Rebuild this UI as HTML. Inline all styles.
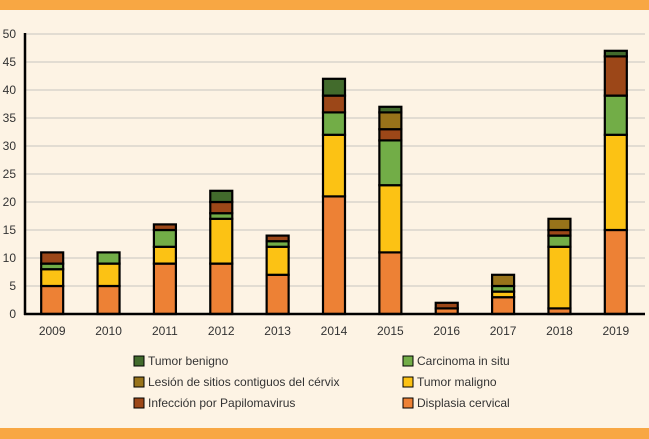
<!DOCTYPE html>
<html><head><meta charset="utf-8"><style>
html,body{margin:0;padding:0;}
body{width:649px;height:439px;background:#fdf3e4;position:relative;overflow:hidden;font-family:"Liberation Sans",sans-serif;}
.band{position:absolute;left:0;width:649px;background:#f8a743;}
</style></head><body>
<div class="band" style="top:0;height:10px"></div>
<div class="band" style="top:428px;height:11px"></div>
<svg id="chart" width="649" height="439" style="position:absolute;left:0;top:0"></svg>
<script>
const years=["2009","2010","2011","2012","2013","2014","2015","2016","2017","2018","2019"];
const displasia=[5,5,9,9,7,21,11,1,3,1,15];
const maligno=[3,4,3,8,5,11,12,0,1,11,17];
const carcinoma=[1,2,3,1,1,4,8,0,1,2,7];
const infeccion=[2,0,1,2,1,3,2,1,0,1,7];
const lesion=[0,0,0,0,0,0,3,0,2,2,0];
const benigno=[0,0,0,2,0,3,1,0,0,0,1];
const yTicks=[0,5,10,15,20,25,30,35,40,45,50];
const seriesNames=["Displasia cervical","Tumor maligno","Carcinoma in situ","Infección por Papilomavirus","Lesión de sitios contiguos del cérvix","Tumor benigno"];
const seriesData=[displasia,maligno,carcinoma,infeccion,lesion,benigno];
const colors=["#ed8135","#fcc214","#72ad47","#9c4718","#98731a","#426b2c"];
const NS="http://www.w3.org/2000/svg";
const svg=document.getElementById('chart');
const x0=25,x1=645,yb=314,yt=34,ymax=50;
const y=v=>yb-(v/ymax)*(yb-yt);
const step=(x1-x0)/years.length;
const xc=i=>x0+step*(i+0.5)-1;
function mk(t,a){const e=document.createElementNS(NS,t);for(const k in a)e.setAttribute(k,a[k]);svg.appendChild(e);return e;}
yTicks.forEach(t=>{
  if(t>0){const g=mk('line',{x1:x0,x2:x1,y1:y(t),y2:y(t),stroke:'#c8c4bf','stroke-width':1});
  
  }
  const l=mk('text',{x:16,y:y(t)+4,'text-anchor':'end','font-size':12,fill:'#333'});
  l.textContent=t;
  
  
});
years.forEach((yr,i)=>{
  let cum=0;const w=22;
  seriesData.forEach((s,k)=>{
    const v=s[i];if(!v)return;
    const r=mk('rect',{x:xc(i)-w/2,y:y(cum+v),width:w,height:y(cum)-y(cum+v),fill:colors[k],stroke:'#000','stroke-width':2.2});
    
    
    cum+=v;
  });
  const l=mk('text',{x:xc(i),y:335,'text-anchor':'middle','font-size':12,fill:'#333'});
  l.textContent=yr;
  
  
});
const ax=mk('line',{x1:x0,x2:x0,y1:yt-1,y2:yb+1,stroke:'#000','stroke-width':2.5});


const bx=mk('line',{x1:x0-1,x2:x1,y1:yb,y2:yb,stroke:'#000','stroke-width':2.5});


const legendOrder=[5,2,4,1,3,0];
legendOrder.forEach((k,j)=>{
  const col=j%2,row=Math.floor(j/2);
  const lx=col?403:134,ly=[361,382,403][row];
  const sw=mk('rect',{x:lx,y:ly-5,width:10,height:10,fill:colors[k],stroke:'#000','stroke-width':1});
  
  
  const t=mk('text',{x:lx+14,y:ly+4,'font-size':12,fill:'#333'});
  t.textContent=seriesNames[k];
  
  
});
</script>
</body></html>
